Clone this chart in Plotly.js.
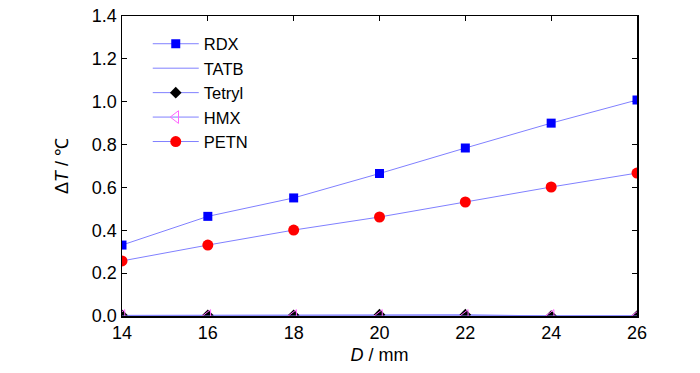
<!DOCTYPE html>
<html>
<head>
<meta charset="utf-8">
<script src="https://cdn.plot.ly/plotly-3.0.1.min.js"></script>
<style>html,body{margin:0;padding:0;background:#fff;}#chart{width:700px;height:373px;}</style>
</head>
<body>
<div id="chart"></div>
<script>
const D = [14, 16, 18, 20, 22, 24, 26];
const RDX = [0.331, 0.465, 0.551, 0.665, 0.784, 0.900, 1.008];
const TATB = [0, 0, 0, 0, 0, 0, 0];
const Tetryl = [0.003, 0.003, 0.003, 0.006, 0.006, 0.000, 0.000];
const HMX = [0, 0, 0, 0, 0, 0, 0];
const PETN = [0.257, 0.331, 0.401, 0.462, 0.532, 0.602, 0.667];
const xTicks = [14, 16, 18, 20, 22, 24, 26];
const yTicks = [0, 0.2, 0.4, 0.6, 0.8, 1.0, 1.2, 1.4];
const yTickText = ['0.0','0.2','0.4','0.6','0.8','1.0','1.2','1.4'];

const FONT = 'Liberation Sans, Arial, sans-serif';
const lineCol = '#8080ff';

const traces = [
  {x: D, y: RDX, name: 'RDX', mode: 'lines+markers', line: {color: lineCol, width: 1},
   marker: {symbol: 'square', size: 9, color: '#0000ff'}},
  {x: D, y: TATB, name: 'TATB', mode: 'lines', line: {color: lineCol, width: 1}},
  {x: D, y: Tetryl, name: 'Tetryl', mode: 'lines+markers', line: {color: lineCol, width: 1},
   marker: {symbol: 'diamond', size: 9, color: '#000000'}},
  {x: D, y: HMX, name: 'HMX', mode: 'lines+markers', line: {color: lineCol, width: 1},
   marker: {symbol: 'triangle-left-open', size: 11, color: '#ff66ff', line: {width: 1}}},
  {x: D, y: PETN, name: 'PETN', mode: 'lines+markers', line: {color: lineCol, width: 1},
   marker: {symbol: 'circle', size: 11, color: '#ff0000'}}
];

const layout = {
  width: 700, height: 373,
  margin: {l: 122, r: 63, t: 16, b: 57},
  paper_bgcolor: '#fff', plot_bgcolor: '#fff',
  font: {family: FONT, size: 18, color: '#000'},
  showlegend: true,
  legend: {x: 0.05, y: 0.965, xanchor: 'left', yanchor: 'top', bgcolor: 'rgba(0,0,0,0)',
           font: {family: FONT, size: 16.5}, tracegroupgap: 0, itemwidth: 46},
  xaxis: {range: [14, 26], tickvals: xTicks, ticktext: xTicks.map(String),
          showgrid: false, zeroline: false, showline: true, linecolor: '#000', linewidth: 1.5,
          mirror: 'ticks', ticks: 'inside', ticklen: 5, tickcolor: '#000', layer: 'below traces',
          title: {text: '<i>D</i> / mm', font: {family: FONT, size: 18}, standoff: 6}},
  yaxis: {range: [0, 1.4], tickvals: yTicks, ticktext: yTickText,
          showgrid: false, zeroline: false, showline: true, linecolor: '#000', linewidth: 1.5,
          mirror: 'ticks', ticks: 'inside', ticklen: 5, tickcolor: '#000', layer: 'below traces',
          title: {text: 'Δ<i>T</i> / ℃', font: {family: FONT, size: 18}, standoff: 18}}
};

Plotly.newPlot('chart', traces, layout, {displayModeBar: false, staticPlot: true});
</script>
</body>
</html>
